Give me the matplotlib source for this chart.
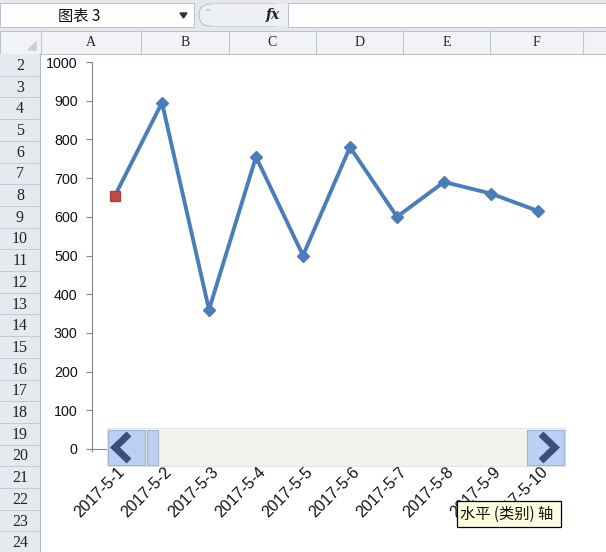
import matplotlib
matplotlib.use("Agg")
import matplotlib.pyplot as plt
from matplotlib.patches import Rectangle, FancyBboxPatch, Polygon
from matplotlib.transforms import ScaledTranslation

plt.rcParams["font.family"] = ["Liberation Sans", "Noto Sans CJK SC", "DejaVu Sans"]

# chart data
dates = ["2017-5-1", "2017-5-2", "2017-5-3", "2017-5-4", "2017-5-5",
         "2017-5-6", "2017-5-7", "2017-5-8", "2017-5-9", "2017-5-10"]
values = [655, 895, 360, 755, 500, 780, 600, 690, 660, 615]
y_ticks = [0, 100, 200, 300, 400, 500, 600, 700, 800, 900, 1000]

# spreadsheet chrome
col_names = ["A", "B", "C", "D", "E", "F"]
col_edges = [41, 141, 229, 316, 403, 490, 583]
row_names = [str(r) for r in range(2, 25)]
ROW_TOP, ROW_H = 54, 21.7

W, H = 606, 552
fig = plt.figure(figsize=(W / 100, H / 100), dpi=100)

# background layer in pixel coordinates (y down)
bg = fig.add_axes([0, 0, 1, 1], zorder=0)
bg.set_xlim(0, W)
bg.set_ylim(H, 0)
bg.axis("off")

bg.add_patch(Rectangle((0, 0), W, H, color="white"))
# name box / formula bar strip
bg.add_patch(Rectangle((0, 0), W, 31, color="#E4E8EE"))
bg.add_patch(Rectangle((0, 3), 194, 24, facecolor="white", edgecolor="#B9C2CE", lw=0.7))
bg.text(58, 16, "图表 3", fontsize=11, va="center", ha="left",
        family=["Noto Sans CJK SC", "DejaVu Sans"], color="#111111")
bg.add_patch(Polygon([(180, 13), (187, 13), (183.5, 18)], color="#333333"))
bg.add_patch(FancyBboxPatch((199, 4), 86, 22, boxstyle="round,pad=0,rounding_size=11",
                            facecolor="#EEF0F3", edgecolor="#B5BDC8", lw=0.7))
bg.add_patch(Rectangle((212, 4), 76, 22, facecolor="#EEF0F3", edgecolor="none"))
bg.plot([207, 209], [10, 10], color="#C8CED6", lw=1.5)
bg.text(273, 15, "fx", fontsize=10, style="italic", weight="bold", ha="center",
        va="center", family="DejaVu Serif", color="#222222")
bg.add_patch(Rectangle((288, 3), W - 288, 24, facecolor="white", edgecolor="#B9C2CE", lw=0.7))

# column headers
bg.add_patch(Rectangle((0, 31), W, 22.5, facecolor="#F1F3F6", edgecolor="#B8C0CB", lw=0.7))
bg.add_patch(Polygon([(36, 50), (36, 42), (28, 50)], color="#C9CED5"))
for i, name in enumerate(col_names):
    x0, x1 = col_edges[i], col_edges[i + 1]
    bg.plot([x0, x0], [31, 53.5], color="#BFC6D0", lw=0.8)
    bg.text((x0 + x1) / 2, 43, name, fontsize=10, ha="center", va="center",
            family="Liberation Serif", color="#222222")
bg.plot([col_edges[-1], col_edges[-1]], [31, 53.5], color="#BFC6D0", lw=0.8)

# row headers
bg.add_patch(Rectangle((0, 53.5), 40, H - 53.5, facecolor="#E6EAEF", edgecolor="none"))
bg.plot([40, 40], [53.5, H], color="#AEB7C3", lw=0.8)
for i, name in enumerate(row_names):
    top = ROW_TOP + i * ROW_H
    bg.plot([0, 40], [top + ROW_H, top + ROW_H], color="#C4CBD4", lw=0.7)
    bg.text(20, top + ROW_H / 2 + 1, name, fontsize=11.5, ha="center", va="center",
            family="Liberation Serif", color="#222222")

# chart
x0_px, x1_px, y0_px, y1_px = 91.5, 561.5, 449, 62
ax = fig.add_axes([x0_px / W, 1 - y0_px / H, (x1_px - x0_px) / W, (y0_px - y1_px) / H],
                  zorder=1)
ax.patch.set_alpha(0)
xs = [i + 0.5 for i in range(len(values))]
ax.plot(xs, values, color="#4A7EBB", lw=2.8, marker="D", ms=6.5, mec="#4A7EBB",
        markevery=list(range(1, len(values))), solid_joinstyle="miter", zorder=3)
ax.plot(xs[0], values[0], marker="s", ms=7.5, color="#BE4B48", mec="#A8403D", zorder=4)
ax.set_xlim(0, len(values))
ax.set_ylim(0, 1000)
ax.set_yticks(y_ticks)
ax.set_yticklabels([str(v) for v in y_ticks])
ax.tick_params(axis="y", length=4.5, width=0.8, color="#868686", pad=5.5,
               labelsize=10.3, labelcolor="#111111")
ax.set_xticks(range(len(values) + 1))
ax.set_xticklabels([])
ax.tick_params(axis="x", length=4.5, width=0.8, color="#868686", direction="inout")
for side in ("top", "right"):
    ax.spines[side].set_visible(False)
for side in ("left", "bottom"):
    ax.spines[side].set_color("#868686")
    ax.spines[side].set_linewidth(0.8)

tr = ax.get_xaxis_transform() + ScaledTranslation(2 / 100, -15 / 100, fig.dpi_scale_trans)
for x, lab in zip(xs, dates):
    ax.text(x, 0, lab, transform=tr, rotation=45, rotation_mode="anchor",
            ha="right", va="top", fontsize=11.5, color="#111111")

# foreground: scroll bar control and tooltip
fg = fig.add_axes([0, 0, 1, 1], zorder=2)
fg.set_xlim(0, W)
fg.set_ylim(H, 0)
fg.axis("off")
fg.patch.set_alpha(0)

fg.add_patch(Rectangle((107, 428), 458, 38, facecolor="#F4F2EE", edgecolor="#E1E5EC", lw=0.8))
fg.add_patch(Rectangle((108, 430), 37, 35, facecolor="#BED0F2", edgecolor="#9FB3DA", lw=0.8))
fg.add_patch(Rectangle((147, 430), 11, 35, facecolor="#BED0F2", edgecolor="#9FB3DA", lw=0.8))
fg.add_patch(Rectangle((527, 430), 37, 35, facecolor="#BED0F2", edgecolor="#9FB3DA", lw=0.8))
fg.plot([129, 115, 129], [434, 447.5, 461], color="#3B4F7C", lw=5,
        solid_joinstyle="miter", solid_capstyle="butt")
fg.plot([541, 555, 541], [434, 447.5, 461], color="#3B4F7C", lw=5,
        solid_joinstyle="miter", solid_capstyle="butt")

fg.add_patch(Rectangle((457, 501), 104, 26, facecolor="#FFFFE1", edgecolor="black", lw=0.9))
fg.text(460, 514.5, "水平 (类别) 轴", fontsize=11, ha="left", va="center",
        family=["Noto Sans CJK SC", "DejaVu Sans"], color="#111111")

fig.savefig("out.png", dpi=100)
